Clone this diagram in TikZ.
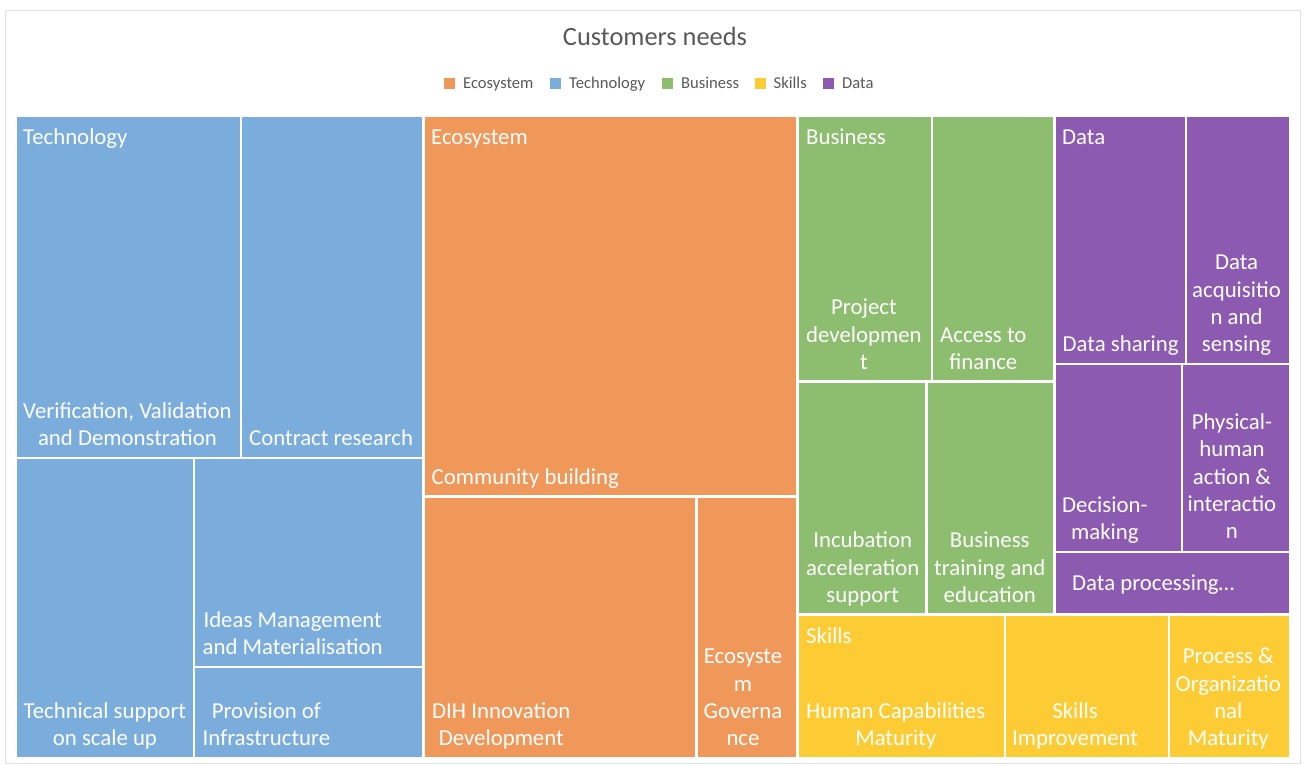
\documentclass[tikz,border=0pt]{standalone}
\usepackage{fontspec}
\setmainfont{Carlito}
\usetikzlibrary{fit}
\definecolor{tech}{RGB}{123,173,220}
\definecolor{eco}{RGB}{240,152,90}
\definecolor{bus}{RGB}{141,189,111}
\definecolor{skl}{RGB}{253,204,52}
\definecolor{dat}{RGB}{140,90,176}
\definecolor{txtgray}{RGB}{89,89,89}
\tikzset{
  cell/.style={draw=white, line width=2.2pt, inner sep=0pt, outer sep=0pt},
  lbl/.style={text=white, font=\fontsize{22.8}{27.3}\selectfont, align=center, inner sep=0pt, anchor=south west},
  grp/.style={text=white, font=\fontsize{22.8}{27.3}\selectfont, inner sep=0pt, anchor=base west},
  legtxt/.style={text=txtgray, font=\fontsize{16.6}{19}\selectfont, inner sep=0pt, anchor=base west},
  legsq/.style={inner sep=0pt, minimum size=10.5pt, anchor=north west},
}
\begin{document}
\begin{tikzpicture}[x=1pt,y=-1pt]
\useasboundingbox (0,0) rectangle (1306,765);
\fill[white] (0,0) rectangle (1306,765);
\draw[black!12, line width=0.8pt] (5,10) rectangle (1300.5,763);
% title
\node[text=txtgray, font=\fontsize{26.4}{30}\selectfont, inner sep=0pt, anchor=base] (title) at (655,46) {Customers needs};
% legend
\node[legsq, fill=eco] (lq1) at (444,78) {};
\node[legtxt] (lt1) at (463,89) {Ecosystem};
\node[legsq, fill=tech] (lq2) at (550,78) {};
\node[legtxt] (lt2) at (569,89) {Technology};
\node[legsq, fill=bus] (lq3) at (662,78) {};
\node[legtxt] (lt3) at (681,89) {Business};
\node[legsq, fill=skl] (lq4) at (755,78) {};
\node[legtxt] (lt4) at (773.5,89) {Skills};
\node[legsq, fill=dat] (lq5) at (823,78) {};
\node[legtxt] (lt5) at (842,89) {Data};
% Technology
\node[cell, fill=tech, fit={(16,115.5)(241,458)}] (vvd) {};
\node[cell, fill=tech, fit={(241,115.5)(423.5,458)}] (cr) {};
\node[cell, fill=tech, fit={(16,458)(194,758)}] (ts) {};
\node[cell, fill=tech, fit={(194,458)(423.5,667)}] (im) {};
\node[cell, fill=tech, fit={(194,667)(423.5,758)}] (pi) {};
% Ecosystem
\node[cell, fill=eco, fit={(423.5,115.5)(797.5,496.5)}] (cb) {};
\node[cell, fill=eco, fit={(423.5,496.5)(696.5,758)}] (dih) {};
\node[cell, fill=eco, fit={(696.5,496.5)(797.5,758)}] (eg) {};
% Business
\node[cell, fill=bus, fit={(797.5,115.5)(932,381.5)}] (pd) {};
\node[cell, fill=bus, fit={(932,115.5)(1054.5,381.5)}] (af) {};
\node[cell, fill=bus, fit={(797.5,381.5)(926.5,614.5)}] (ia) {};
\node[cell, fill=bus, fit={(926.5,381.5)(1054.5,614.5)}] (bt) {};
% Data
\node[cell, fill=dat, fit={(1054.5,115.5)(1186,364)}] (ds) {};
\node[cell, fill=dat, fit={(1186,115.5)(1290.5,364)}] (da) {};
\node[cell, fill=dat, fit={(1054.5,364)(1182,552)}] (dm) {};
\node[cell, fill=dat, fit={(1182,364)(1290.5,552)}] (ph) {};
\node[cell, fill=dat, fit={(1054.5,552)(1290.5,614.5)}] (dp) {};
% Skills
\node[cell, fill=skl, fit={(797.5,614.5)(1005,758)}] (hc) {};
\node[cell, fill=skl, fit={(1005,614.5)(1169,758)}] (si) {};
\node[cell, fill=skl, fit={(1169,614.5)(1290.5,758)}] (po) {};
% group labels
\node[grp] (gT) at (23,144) {Technology};
\node[grp] (gE) at (431,144) {Ecosystem};
\node[grp] (gB) at (806,144) {Business};
\node[grp] (gD) at (1062,144) {Data};
\node[grp] (gS) at (806,643) {Skills};
% leaf labels
\node[lbl] (Lvvd) at ([xshift=7pt,yshift=3.8pt]vvd.south west) {Verification, Validation\\and Demonstration\strut};
\node[lbl] (Lcr) at ([xshift=8pt,yshift=3.8pt]cr.south west) {Contract research\strut};
\node[lbl] (Lts) at ([xshift=7.5pt,yshift=3.8pt]ts.south west) {Technical support\\on scale up\strut};
\node[lbl] (Lim) at ([xshift=8.5pt,yshift=3.8pt]im.south west) {Ideas Management\\and Materialisation\strut};
\node[lbl] (Lpi) at ([xshift=8.5pt,yshift=3.8pt]pi.south west) {Provision of\\Infrastructure\strut};
\node[lbl] (Lcb) at ([xshift=8pt,yshift=3.8pt]cb.south west) {Community building\strut};
\node[lbl] (Ldih) at ([xshift=8.5pt,yshift=3.8pt]dih.south west) {DIH Innovation\\Development\strut};
\node[lbl] (Leg) at ([xshift=7pt,yshift=3.8pt]eg.south west) {Ecosyste\\m\\Governa\\nce\strut};
\node[lbl] (Lpd) at ([xshift=8.5pt,yshift=3.8pt]pd.south west) {Project\\developmen\\t\strut};
\node[lbl] (Laf) at ([xshift=8pt,yshift=3.8pt]af.south west) {Access to\\finance\strut};
\node[lbl] (Lia) at ([xshift=8.5pt,yshift=3.8pt]ia.south west) {Incubation\\acceleration\\support\strut};
\node[lbl] (Lbt) at ([xshift=7.5pt,yshift=3.8pt]bt.south west) {Business\\training and\\education\strut};
\node[lbl] (Lds) at ([xshift=8pt,yshift=3.8pt]ds.south west) {Data sharing\strut};
\node[lbl] (Lda) at ([xshift=6pt,yshift=3.8pt]da.south west) {Data\\acquisitio\\n and\\sensing\strut};
\node[lbl] (Ldm) at ([xshift=7.5pt,yshift=3.8pt]dm.south west) {Decision-\\making\strut};
\node[lbl] (Lph) at ([xshift=5.5pt,yshift=5pt]ph.south west) {Physical-\\human\\action \&\\interactio\\n\strut};
\node[lbl] (Ldp) at ([xshift=17.5pt,yshift=15.6pt]dp.south west) {Data processing\dots\strut};
\node[lbl] (Lhc) at ([xshift=8.5pt,yshift=3.8pt]hc.south west) {Human Capabilities\\Maturity\strut};
\node[lbl] (Lsi) at ([xshift=7pt,yshift=3.8pt]si.south west) {Skills\\Improvement\strut};
\node[lbl] (Lpo) at ([xshift=6.5pt,yshift=3.8pt]po.south west) {Process \&\\Organizatio\\nal\\Maturity\strut};
\end{tikzpicture}
\end{document}
